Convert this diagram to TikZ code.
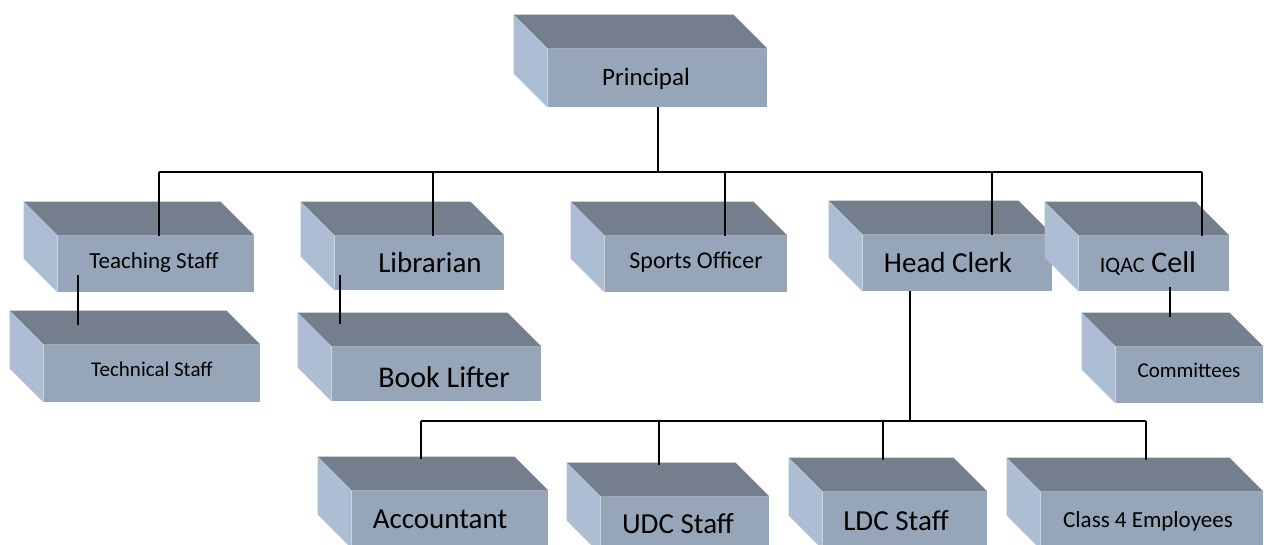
\documentclass[tikz,border=0pt]{standalone}
\usepackage{fontspec}
\setmainfont{Carlito}
\usetikzlibrary{fit,calc}
\definecolor{frontc}{RGB}{151,165,184}
\definecolor{topc}{RGB}{116,126,140}
\definecolor{sidec}{RGB}{173,189,212}
\tikzset{
        x=0.5pt, y=-0.5pt,
        front/.style={fill=frontc, inner sep=0pt, fit={#1}},
        topface/.style={fill=topc},
        sideface/.style={fill=sidec},
        conn/.style={draw=black, line width=1pt},
        lbl/.style={anchor=base, inner sep=0pt, font=\fontsize{#1}{#1}\selectfont}
          }
% top and left faces of a box, drawn from its front face
\newcommand{\boxsides}[1]{%
  \fill[topface] (#1.north west) -- ++(-34,-34) -- ([shift={(-34,-34)}]#1.north east) -- (#1.north east) -- cycle;
  \fill[sideface] (#1.north west) -- ++(-34,-34) -- ([shift={(-34,-34)}]#1.south west) -- (#1.south west) -- cycle;}

\begin{document}
\begin{tikzpicture}
  \useasboundingbox (0,0) rectangle (1264,545);
  \clip (0,0) rectangle (1264,545);
  % front faces
  \node[front={(548,49) (767,107)}] (prin) {};
  \node[front={(58,236) (254,292)}] (teach) {};
  \node[front={(44,345) (260,402)}] (tech) {};
  \node[front={(335,236) (504,290)}] (libr) {};
  \node[front={(332,347) (541,401)}] (book) {};
  \node[front={(605,236) (787,292)}] (sport) {};
  \node[front={(863,235) (1052,291)}] (head) {};
  \node[front={(1079,236) (1229,291)}] (iqac) {};
  \node[front={(1116,347) (1263,403)}] (comm) {};
  \node[front={(352,491) (548,548)}] (acct) {};
  \node[front={(601,497) (769,554)}] (udc) {};
  \node[front={(823,492) (987,549)}] (ldc) {};
  \node[front={(1041,492) (1263,549)}] (cls) {};
  \foreach \n in {prin,teach,tech,libr,book,sport,head,iqac,comm,acct,udc,ldc,cls}
    \boxsides{\n};
  % labels
  \node[lbl=12.5pt] (prin-t) at (646,86) {Principal};
  \node[lbl=11.5pt] (teach-t) at (154,269) {Teaching Staff};
  \node[lbl=10.5pt] (tech-t) at (152,377) {Technical Staff};
  \node[lbl=14.5pt] (libr-t) at (430,273) {Librarian};
  \node[lbl=15pt] (book-t) at (444,387) {Book Lifter};
  \node[lbl=12pt] (sport-t) at (696,269) {Sports Officer};
  \node[lbl=14.5pt] (head-t) at (948,273) {Head Clerk};
  \node[lbl=15pt] (iqac-t) at (1148,273) {{\fontsize{11pt}{11pt}\selectfont IQAC} Cell};
  \node[lbl=10.5pt] (comm-t) at (1189,378) {Committees};
  \node[lbl=14.5pt] (acct-t) at (440,528) {Accountant};
  \node[lbl=14.5pt] (udc-t) at (678,533) {UDC Staff};
  \node[lbl=14.5pt] (ldc-t) at (896,530) {LDC Staff};
  \node[lbl=11.5pt] (cls-t) at (1148,527) {Class 4 Employees};
  % upper bus
  \coordinate (tap1) at (159,172);
  \coordinate (tap2) at (433,172);
  \coordinate (tap3) at (725,172);
  \coordinate (tap4) at (992,172);
  \coordinate (tap5) at (1202,172);
  \draw[conn] (tap1) -- (tap5);
  \draw[conn] (prin.south) -- (prin.south |- tap1);
  \foreach \t/\n in {tap1/teach,tap2/libr,tap3/sport,tap4/head,tap5/iqac}
    \draw[conn] (\t) -- (\t |- \n.north);
  % sub staff
  \draw[conn] ([shift={(20,-17)}]teach.south west) -- ([shift={(34,-20)}]tech.north west);
  \draw[conn] ([shift={(5,-15)}]libr.south west) -- ([shift={(8,-23)}]book.north west);
  \draw[conn] ([shift={(91,-4)}]iqac.south west) -- ([shift={(54,-30)}]comm.north west);
  % lower bus
  \coordinate (hjoin) at (910,421);
  \coordinate (btap1) at (421,421);
  \coordinate (btap2) at (659,421);
  \coordinate (btap3) at (883,421);
  \coordinate (btap4) at (1146,421);
  \draw[conn] (hjoin |- head.south) -- (hjoin);
  \draw[conn] (btap1) -- (btap4);
  \foreach \t/\n in {btap1/acct,btap2/udc,btap3/ldc,btap4/cls}
    \draw[conn] (\t) -- ($(\t |- \n.north)+(0,-32)$);
\end{tikzpicture}
\end{document}
